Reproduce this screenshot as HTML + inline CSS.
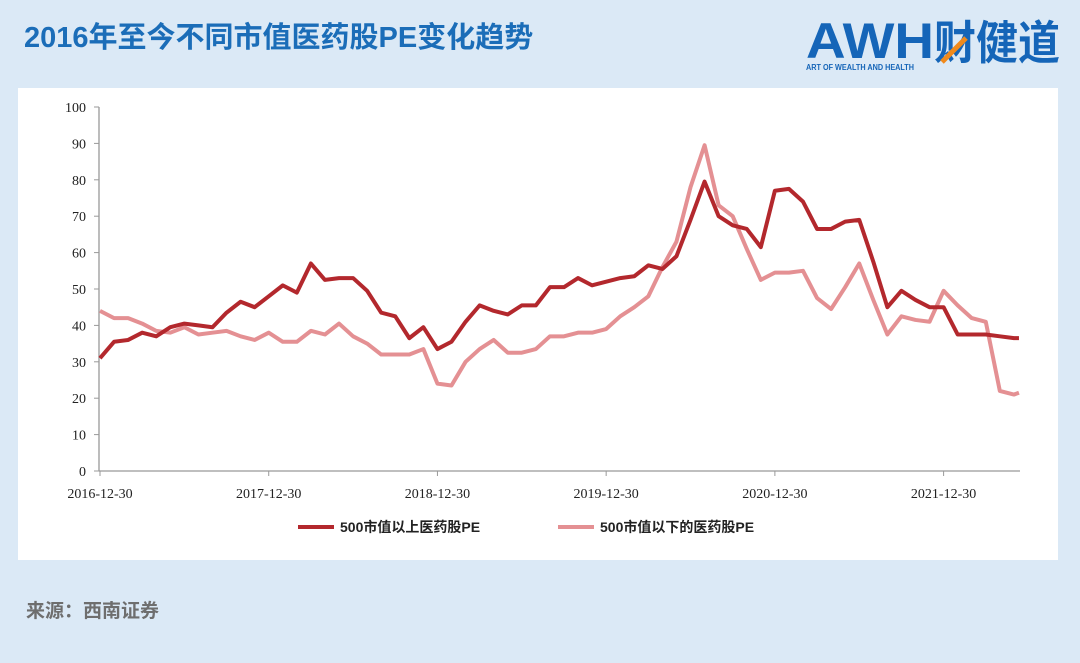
<!DOCTYPE html>
<html><head><meta charset="utf-8">
<style>
body{margin:0;width:1080px;height:663px;background:#dbe9f6;font-family:"Liberation Sans","Noto Sans CJK SC",sans-serif;position:relative;overflow:hidden}
#title{position:absolute;left:24px;top:14px;font-size:29px;color:#1b6db8;font-weight:bold}
#logo{position:absolute;left:806px;top:10px;width:255px;height:62px}
#panel{position:absolute;left:18px;top:88px;width:1040px;height:472px;background:#fff}
#src{position:absolute;left:26px;top:596px;font-size:19px;color:#6e6e6e;font-weight:bold}
</style></head><body>
<div id="title">2016年至今不同市值医药股PE变化趋势</div>
<div id="logo">
<svg width="255" height="62">
<text x="0" y="48" font-family="Liberation Sans,sans-serif" font-weight="bold" font-size="50" fill="#1565b8" textLength="128" lengthAdjust="spacingAndGlyphs">AWH</text>
<text x="128" y="49" font-family="Noto Sans CJK SC,sans-serif" font-weight="bold" font-size="46" fill="#1565b8" textLength="126" lengthAdjust="spacingAndGlyphs">财健道</text>
<polyline points="136,52 148,40 160,28" fill="none" stroke="#f08a1c" stroke-width="5"/>
<text x="0" y="60" font-family="Liberation Sans,sans-serif" font-weight="bold" font-size="8" fill="#1565b8" textLength="108" lengthAdjust="spacingAndGlyphs">ART OF WEALTH AND HEALTH</text>
</svg></div>
<div id="panel"></div>
<svg id="chart" width="1080" height="663" style="position:absolute;left:0;top:0"></svg>
<div id="src">来源：西南证券</div>
<script>
const xLabels=["2016-12-30","2017-12-30","2018-12-30","2019-12-30","2020-12-30","2021-12-30"];
const yTicks=[0,10,20,30,40,50,60,70,80,90,100];
const seriesAbove=[31,35.5,36,38,37,39.5,40.5,40,39.5,43.5,46.5,45,48,51,49,57,52.5,53,53,49.5,43.5,42.5,36.5,39.5,33.5,35.5,41,45.5,44,43,45.5,45.5,50.5,50.5,53,51,52,53,53.5,56.5,55.5,59,69,79.5,70,67.5,66.5,61.5,77,77.5,74,66.5,66.5,68.5,69,57.5,45,49.5,47,45,45,37.5,37.5,37.5,37,36.5,36.5];
const seriesBelow=[44,42,42,40.5,38.5,38,39.5,37.5,38,38.5,37,36,38,35.5,35.5,38.5,37.5,40.5,37,35,32,32,32,33.5,24,23.5,30,33.5,36,32.5,32.5,33.5,37,37,38,38,39,42.5,45,48,56,63,78,89.5,73,70,61,52.5,54.5,54.5,55,47.5,44.5,50.5,57,47,37.5,42.5,41.5,41,49.5,45.5,42,41,22,21,21.5];
const names=["500市值以上医药股PE","500市值以下的医药股PE"];
const colors=["#b3282d","#e49093"];
const svg=document.getElementById('chart');
const NS="http://www.w3.org/2000/svg";
const x0=99,x1=1020,y0=471,yTop=107;
const step=14.06;
const xs=i=>100+i*step;
const ys=v=>y0-(v/100)*(y0-yTop);
function el(t,a){const e=document.createElementNS(NS,t);for(const k in a)e.setAttribute(k,a[k]);svg.appendChild(e);return e;}
let ax=el('line',{x1:x0,y1:yTop,x2:x0,y2:y0,stroke:'#999','stroke-width':1.3});

let bx=el('line',{x1:x0,y1:y0,x2:x1,y2:y0,stroke:'#999','stroke-width':1.3});

yTicks.forEach(v=>{
 el('line',{x1:x0-5,y1:ys(v),x2:x0,y2:ys(v),stroke:'#999'});
 const t=el('text',{x:x0-13,y:ys(v)+5,'text-anchor':'end','font-size':14,'font-family':'Liberation Serif,serif',fill:'#222'});
 t.textContent=v;
 
 
});
xLabels.forEach((l,i)=>{
 const x=xs(i*12);
 el('line',{x1:x,y1:y0,x2:x,y2:y0+5,stroke:'#999'});
 const t=el('text',{x:x,y:y0+27,'text-anchor':'middle','font-size':14,'font-family':'Liberation Serif,serif',fill:'#222'});
 t.textContent=l;
 
 
});
[seriesBelow,seriesAbove].forEach((s,k)=>{
 const ci=k===0?1:0;
 const p=el('polyline',{points:s.map((v,i)=>xs(Math.min(i,65.36))+','+ys(v)).join(' '),fill:'none',stroke:colors[ci],'stroke-width':4,'stroke-linejoin':'round'});
 
 
});
[[298,0],[558,1]].forEach(([lx,i])=>{
 const l=el('line',{x1:lx,y1:527,x2:lx+36,y2:527,stroke:colors[i],'stroke-width':4});
 
 
 const t=el('text',{x:lx+42,y:532,'font-size':14,'font-weight':'bold','font-family':'Liberation Sans,Noto Sans CJK SC,sans-serif',fill:'#222'});
 t.textContent=names[i];
 
 
});
</script>
</body></html>
